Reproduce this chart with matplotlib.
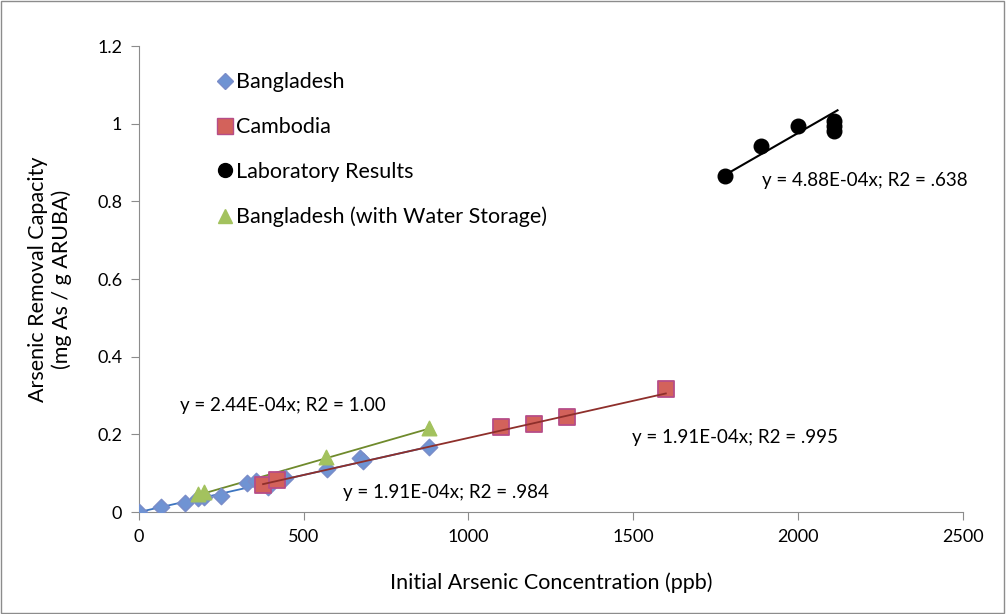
import numpy as np
import matplotlib.pyplot as plt
from matplotlib.lines import Line2D

plt.rcParams['font.family'] = ['Lato', 'DejaVu Sans']

# data
bang_x = [0, 66, 140, 180, 197, 248, 328, 357, 391, 443, 571, 671, 680, 880]
bang_y = [0.0, 0.014, 0.024, 0.036, 0.040, 0.041, 0.075, 0.079, 0.065, 0.088, 0.111, 0.139, 0.131, 0.167]

camb_x = [377, 418, 1100, 1199, 1298, 1599]
camb_y = [0.069, 0.083, 0.218, 0.226, 0.246, 0.317]

lab_x = [1778, 1889, 2000, 2109, 2109, 2109]
lab_y = [0.865, 0.942, 0.995, 1.008, 0.995, 0.980]

store_x = [180, 197, 569, 880]
store_y = [0.046, 0.051, 0.142, 0.216]

# trendline slopes (through origin)
slope_bang = 1.91e-4
slope_camb = 1.91e-4
slope_lab = 4.88e-4
slope_store = 2.44e-4

fig = plt.figure(figsize=(10.06, 6.14), dpi=100)
ax = fig.add_axes([0.138, 0.166, 0.819, 0.759])

# border round the figure
fig.patches.append(plt.Rectangle((0.001, 0.001), 0.997, 0.997, transform=fig.transFigure,
                                 fill=False, edgecolor='#8c8c8c', lw=1))


def trend(xs, slope):
    xx = np.array([min(xs), max(xs)])
    return xx, slope * xx


xx, yy = trend(bang_x, slope_bang)
ax.plot(xx, yy, color='#3d75c0', lw=1.3, zorder=2)
xx, yy = trend(store_x, slope_store)
ax.plot(xx, yy, color='#6f8a2c', lw=1.3, zorder=2)

ax.scatter(bang_x, bang_y, marker='D', s=70, color='#6f93d3', edgecolor='#7a8cc8', lw=1, zorder=3)
ax.scatter(store_x, store_y, marker='^', s=110, color='#a3c25e', edgecolor='#a3c25e', zorder=3)
ax.scatter(camb_x, camb_y, marker='s', s=120, color='#d3625b', edgecolor='#b64d88', lw=1.3, zorder=4)
ax.scatter(lab_x, lab_y, marker='o', s=110, color='black', zorder=4)

xx, yy = trend(camb_x, slope_camb)
ax.plot(xx, yy, color='#8e2f2b', lw=1.3, zorder=5)
xx, yy = trend(lab_x, slope_lab)
xx[1] = 2120
yy = slope_lab * xx
ax.plot(xx, yy, color='black', lw=1.5, zorder=5)

fs = 13.5
ax.text(125, 0.275, 'y = 2.44E-04x; R2 = 1.00', fontsize=fs, va='center')
ax.text(620, 0.05, 'y = 1.91E-04x; R2 = .984', fontsize=fs, va='center')
ax.text(1495, 0.193, 'y = 1.91E-04x; R2 = .995', fontsize=fs, va='center')
ax.text(1890, 0.855, 'y = 4.88E-04x; R2 = .638', fontsize=fs, va='center')

ax.set_xlim(0, 2500)
ax.set_ylim(0, 1.2)
ax.set_xticks([0, 500, 1000, 1500, 2000, 2500])
ax.set_yticks([0, 0.2, 0.4, 0.6, 0.8, 1.0, 1.2])
ax.set_yticklabels(['0', '0.2', '0.4', '0.6', '0.8', '1', '1.2'])
ax.tick_params(labelsize=13, direction='out', length=6, color='#8c8c8c', pad=6)
for s in ['top', 'right']:
    ax.spines[s].set_visible(False)
for s in ['left', 'bottom']:
    ax.spines[s].set_color('#8c8c8c')

ax.set_xlabel('Initial Arsenic Concentration (ppb)', fontsize=15.5, labelpad=20)
ax.set_ylabel('Arsenic Removal Capacity\n(mg As / g ARUBA)', fontsize=15.5, labelpad=18)

handles = [
    Line2D([], [], marker='D', ls='', ms=8, color='#6f93d3', markeredgecolor='#7a8cc8'),
    Line2D([], [], marker='s', ls='', ms=11, color='#d3625b', markeredgecolor='#b64d88'),
    Line2D([], [], marker='o', ls='', ms=10, color='black'),
    Line2D([], [], marker='^', ls='', ms=10, color='#a3c25e'),
]
labels = ['Bangladesh', 'Cambodia', 'Laboratory Results', 'Bangladesh (with Water Storage)']
ax.legend(handles, labels, loc='upper left', bbox_to_anchor=(0.071, 0.985), frameon=False,
          fontsize=15.5, labelspacing=1.15, handlelength=0.8, handletextpad=0.1)

fig.savefig('out.png', dpi=100)
